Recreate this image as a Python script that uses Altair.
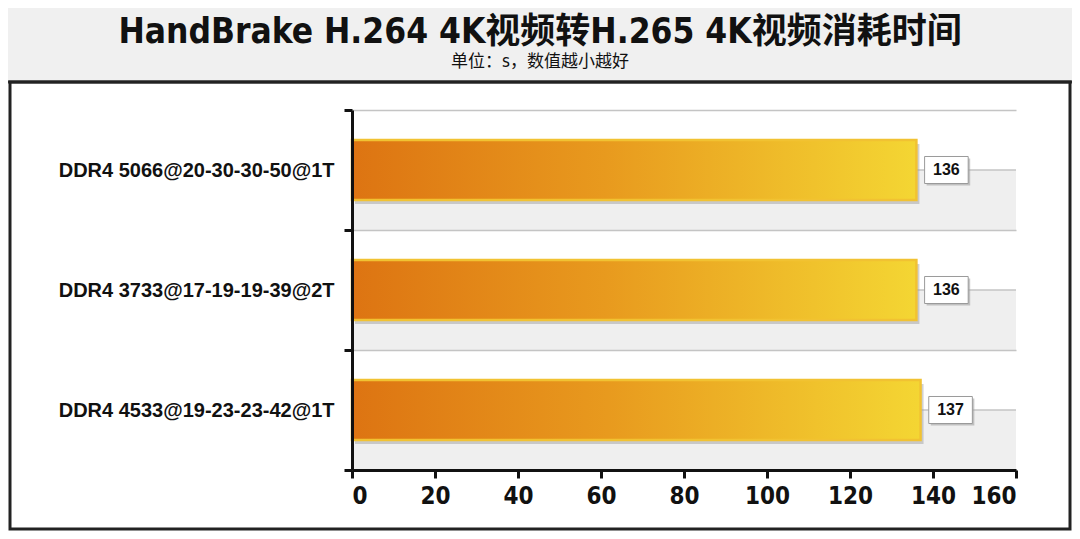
import altair as alt
import pandas as pd

categories = ["DDR4 5066@20-30-30-50@1T", "DDR4 3733@17-19-19-39@2T", "DDR4 4533@19-23-23-42@1T"]
values = [136, 136, 137]
x_ticks = [0, 20, 40, 60, 80, 100, 120, 140, 160]
title_text = "HandBrake H.264 4K视频转H.265 4K视频消耗时间"
subtitle_text = "单位：s，数值越小越好"

df = pd.DataFrame({"config": categories, "time": values})
one = pd.DataFrame({"k": [0]})
titles = pd.DataFrame({"title": [title_text], "subtitle": [subtitle_text]})

NARROW = "'Liberation Sans Narrow', 'DejaVu Sans Condensed', 'Arial Narrow', 'Noto Sans CJK SC', sans-serif"
SANS = "'Liberation Sans', Arial, 'Noto Sans CJK SC', sans-serif"

y_enc = alt.Y(
    "config:N", sort=categories,
    scale=alt.Scale(paddingInner=0, paddingOuter=0),
    axis=alt.Axis(
        title=None, tickBand="extent", grid=True, gridColor="#c4c4c4", gridWidth=1.5,
        domainColor="#111", domainWidth=3, tickColor="#111", tickWidth=3, tickSize=8,
        labelFont=SANS, labelFontSize=20, labelFontWeight="bold", labelColor="#111",
        labelPadding=10, labelLimit=0, zindex=1,
    ),
)
x_scale = alt.Scale(domain=[0, 160], nice=False)
x_enc = alt.X(
    "time:Q", scale=x_scale,
    axis=alt.Axis(
        title=None, values=x_ticks, grid=False, domainColor="#111", domainWidth=3,
        tickColor="#111", tickWidth=3, tickSize=8, labelFont=NARROW, labelFontSize=24,
        labelFontWeight="bold", labelColor="#111", labelPadding=6, zindex=1,
    ),
)

header = alt.Chart(one).mark_rect(color="#f0f0f0").encode(
    x=alt.value(-344), x2=alt.value(720), y=alt.value(-102), y2=alt.value(-28)
)
header_line = alt.Chart(one).mark_rule(color="#333", strokeWidth=3).encode(
    x=alt.value(-344), x2=alt.value(720), y=alt.value(-28)
)
title_mark = alt.Chart(titles).mark_text(
    font=NARROW, fontSize=35, fontWeight="bold", color="#111", align="center", baseline="alphabetic"
).encode(x=alt.value(188), y=alt.value(-67), text="title:N")
subtitle_mark = alt.Chart(titles).mark_text(
    font=NARROW, fontSize=17, color="#111", align="center", baseline="alphabetic"
).encode(x=alt.value(188), y=alt.value(-43), text="subtitle:N")

band_fill = alt.Chart(df).mark_bar(size=60, yOffset=30, color="#efefef").encode(
    y=y_enc, x=alt.datum(0, scale=x_scale), x2=alt.datum(160)
)
center_rule = alt.Chart(df).mark_rule(color="#c4c4c4", strokeWidth=1.5).encode(
    y=alt.Y("config:N", sort=categories), x=alt.datum(0), x2=alt.datum(160)
)

shadow = alt.Chart(df).mark_bar(size=60, xOffset=3, yOffset=4, color="#9a9a9a", opacity=0.45).encode(
    y=alt.Y("config:N", sort=categories), x=x_enc
)
bars = alt.Chart(df).mark_bar(
    size=60,
    stroke="#f1c232", strokeWidth=2.5,
    color=alt.Gradient(
        gradient="linear", x1=0, x2=1, y1=0, y2=0,
        stops=[
            alt.GradientStop(color="#dd7412", offset=0),
            alt.GradientStop(color="#e89a1e", offset=0.45),
            alt.GradientStop(color="#f4d633", offset=1),
        ],
    ),
).encode(y=alt.Y("config:N", sort=categories), x="time:Q")

box_shape = "M-1,-0.62H1V0.62H-1Z"
box_shadow = alt.Chart(df).mark_point(
    shape=box_shape, size=1900, filled=True, color="#a0a0a0", opacity=0.6, xOffset=32, yOffset=2
).encode(y=alt.Y("config:N", sort=categories), x="time:Q")
box = alt.Chart(df).mark_point(
    shape=box_shape, size=1900, filled=True, fill="white", stroke="#9a9a9a", strokeWidth=1, opacity=1, xOffset=30
).encode(y=alt.Y("config:N", sort=categories), x="time:Q")
labels = alt.Chart(df).mark_text(
    font=SANS, fontSize=16, fontWeight="bold", color="#111", xOffset=30, align="center", baseline="middle"
).encode(y=alt.Y("config:N", sort=categories), x="time:Q", text="time:Q")

border = alt.Chart(one).mark_rect(fillOpacity=0, stroke="#222", strokeWidth=3).encode(
    x=alt.value(-342), x2=alt.value(718), y=alt.value(-28), y2=alt.value(419)
)

chart = alt.layer(
    header, header_line, title_mark, subtitle_mark, band_fill, center_rule, shadow, bars,
    box_shadow, box, labels, border
).properties(
    width=664, height=360,
    autosize=alt.AutoSizeParams(type="none"),
    padding={"left": 344, "top": 102, "right": 56, "bottom": 61},
    background="white",
).configure_view(stroke=None)

chart.save("out.html", embed_options={"renderer": "svg", "actions": False})
